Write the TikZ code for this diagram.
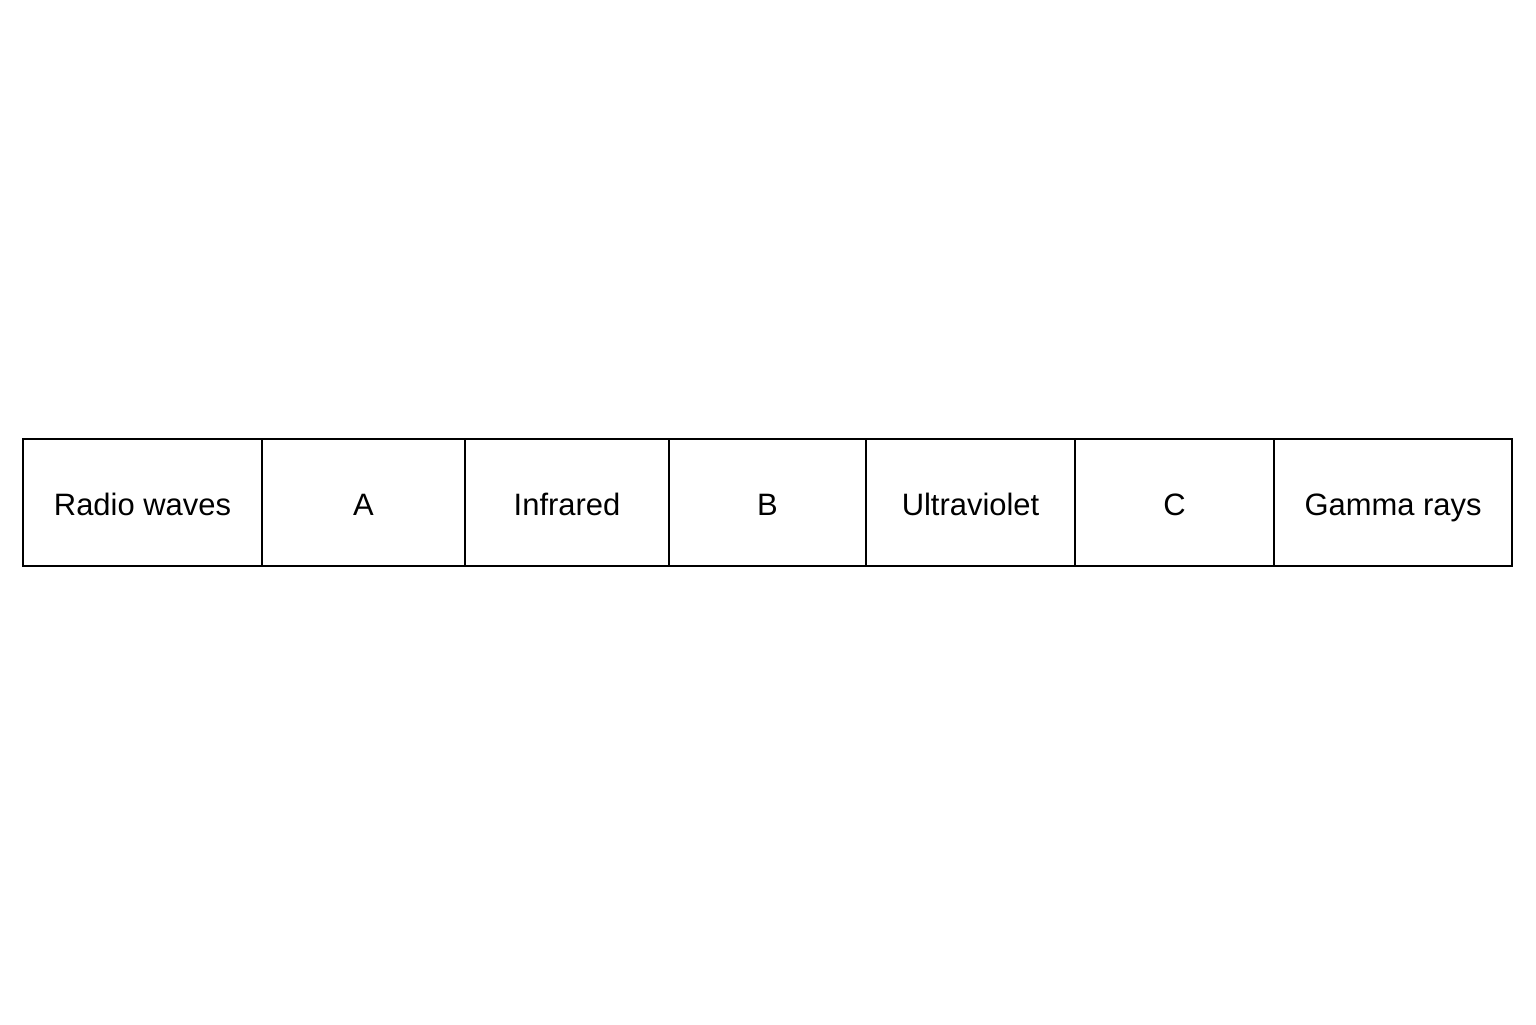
\documentclass[tikz,border=0pt]{standalone}
\usepackage{fontspec}
\setmainfont{Liberation Sans}
\usetikzlibrary{positioning}

\begin{document}
\begin{tikzpicture}[node distance=0pt, auto,
  band/.style={draw, line width=1.1pt, minimum height=2.54cm, outer sep=0pt,
    inner sep=0pt, text height=14.3pt, text depth=0pt,
    font=\fontsize{17.6}{21}\selectfont}]
  \useasboundingbox (0,0) rectangle (30.72,-20.48);
  \node (radio) [band, minimum width=4.78cm, anchor=north west] at (0.46,-8.78) {Radio waves};
  \node (A) [band, minimum width=4.06cm, right=of radio] {A};
  \node (infrared) [band, minimum width=4.08cm, right=of A] {Infrared};
  \node (B) [band, minimum width=3.94cm, right=of infrared] {B};
  \node (ultraviolet) [band, minimum width=4.18cm, right=of B] {Ultraviolet};
  \node (C) [band, minimum width=3.98cm, right=of ultraviolet] {C};
  \node (gamma) [band, minimum width=4.76cm, right=of C] {Gamma rays};
\end{tikzpicture}
\end{document}
